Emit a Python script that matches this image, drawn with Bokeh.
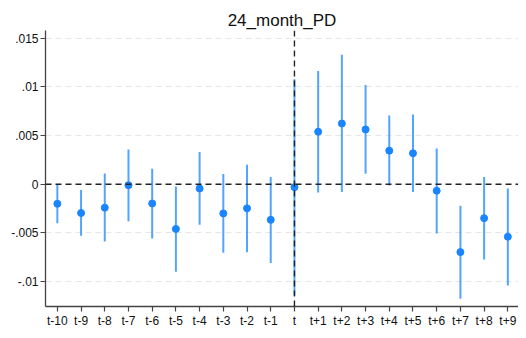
from bokeh.plotting import figure
from bokeh.models import FixedTicker, Span, ColumnDataSource, Title
from bokeh.embed import file_html
from bokeh.resources import INLINE

labels = ["t-10", "t-9", "t-8", "t-7", "t-6", "t-5", "t-4", "t-3", "t-2", "t-1",
          "t", "t+1", "t+2", "t+3", "t+4", "t+5", "t+6", "t+7", "t+8", "t+9"]
coef = [-0.00201, -0.00296, -0.00241, -0.0001, -0.00198, -0.0046, -0.00044, -0.0030, -0.00248, -0.00366,
        -0.0003, 0.0054, 0.00624, 0.00563, 0.00345, 0.00318, -0.00067, -0.00698, -0.00349, -0.0054]
ci_low = [-0.00402, -0.0053, -0.0059, -0.0038, -0.00557, -0.0090, -0.00416, -0.00704, -0.0070, -0.0081,
          -0.01144, -0.00085, -0.0008, 0.00107, -0.00014, -0.0008, -0.00507, -0.01177, -0.00775, -0.0104]
ci_high = [0.0000, -0.0006, 0.0011, 0.00358, 0.0016, -0.00024, 0.0033, 0.00104, 0.0020, 0.00073,
           0.0108, 0.01163, 0.0133, 0.0102, 0.00707, 0.00717, 0.00368, -0.00221, 0.00073, -0.00044]
y_ticks = [-0.01, -0.005, 0, 0.005, 0.01, 0.015]
y_tick_labels = ["-.01", "-.005", "0", ".005", ".01", ".015"]

xs = list(range(len(labels)))
src = ColumnDataSource(dict(x=xs, coef=coef, lo=ci_low, hi=ci_high))

p = figure(width=518, height=330, output_backend="svg", toolbar_location=None,
           x_range=(-0.5, 19.45), y_range=(-0.01257, 0.0158),
           min_border_left=45, min_border_right=0, min_border_top=30, min_border_bottom=20)
p.outline_line_color = None
p.background_fill_color = "white"
p.border_fill_color = "white"

t = Title(text="24_month_PD", align="center", text_font="Liberation Sans",
          text_font_size="17px", text_font_style="normal", text_color="#111111",
          standoff=1, offset=0)
p.add_layout(t, "above")

# grid
p.xgrid.grid_line_color = None
p.ygrid.ticker = FixedTicker(ticks=[-0.01, -0.005, 0.005, 0.01, 0.015])
p.ygrid.grid_line_color = "#E6E6E6"
p.ygrid.grid_line_dash = "6 4"
p.ygrid.grid_line_width = 1

# axes
p.yaxis.ticker = FixedTicker(ticks=y_ticks)
p.yaxis.major_label_overrides = {v: s for v, s in zip(y_ticks, y_tick_labels)}
p.xaxis.ticker = FixedTicker(ticks=xs)
p.xaxis.major_label_overrides = {i: s for i, s in enumerate(labels)}
for ax in (p.xaxis, p.yaxis):
    ax.axis_label = None
    ax.axis_line_color = "#444444"
    ax.axis_line_width = 1.3
    ax.major_tick_line_color = "#444444"
    ax.major_tick_line_width = 1.2
    ax.major_tick_out = 5
    ax.major_tick_in = 0
    ax.minor_tick_line_color = None
    ax.major_label_text_font = "Liberation Sans"
    ax.major_label_text_font_size = "12px"
    ax.major_label_text_color = "#111111"
p.xaxis.major_label_standoff = 2
p.yaxis.major_label_standoff = 2
p.yaxis.major_label_orientation = "horizontal"

# reference lines
p.add_layout(Span(location=0, dimension="width", line_color="#222222",
                  line_dash="6 4", line_width=1.4))
p.add_layout(Span(location=10, dimension="height", line_color="#222222",
                  line_dash="6 4", line_width=1.4))

p.segment(x0="x", y0="lo", x1="x", y1="hi", source=src,
          line_color="#1A85FF", line_alpha=0.75, line_width=2)
p.scatter(x="x", y="coef", source=src, size=7, fill_color="#1A85FF",
          line_color="#1A85FF")

open("out.html", "w").write(file_html(p, INLINE))
